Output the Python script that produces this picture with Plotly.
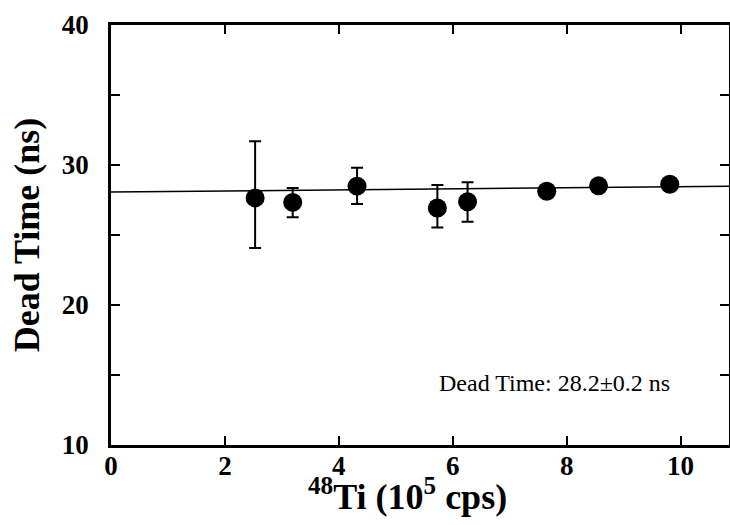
import plotly.graph_objects as go

# Data
count_rate = [2.53, 3.19, 4.32, 5.73, 6.26, 7.65, 8.56, 9.81]      # 48Ti (10^5 cps)
dead_time = [27.65, 27.33, 28.49, 26.93, 27.38, 28.13, 28.51, 28.62]  # ns
dead_time_high = [31.69, 28.35, 29.80, 28.57, 28.76, 28.13, 28.51, 28.62]
dead_time_low = [24.08, 26.26, 27.21, 25.54, 25.95, 28.13, 28.51, 28.62]

fit_x = [0.0, 10.9]
fit_y = [28.07, 28.48]

x_ticks = [0, 2, 4, 6, 8, 10]
y_ticks = [10, 15, 20, 25, 30, 35, 40]
y_ticktext = ["10", "", "20", "", "30", "", "40"]

x_title = "<sup>48</sup>Ti (10<sup>5</sup> cps)"
y_title = "Dead Time (ns)"
annotation_text = "Dead Time: 28.2±0.2 ns"

err_plus = [h - y for h, y in zip(dead_time_high, dead_time)]
err_minus = [y - l for l, y in zip(dead_time_low, dead_time)]

SERIF = "Liberation Serif, Times New Roman, serif"

fig = go.Figure()
fig.add_trace(go.Scatter(
    x=fit_x, y=fit_y, mode="lines",
    line=dict(color="black", width=1.5),
    showlegend=False, hoverinfo="skip",
))
fig.add_trace(go.Scatter(
    x=count_rate, y=dead_time, mode="markers",
    marker=dict(color="black", size=19),
    error_y=dict(type="data", symmetric=False, array=err_plus, arrayminus=err_minus,
                 color="black", thickness=2, width=6),
    showlegend=False,
))

axis_common = dict(
    showline=True, linecolor="black", linewidth=2.5, mirror="ticks",
    ticks="inside", ticklen=9, tickwidth=1.5, tickcolor="black",
    showgrid=False, zeroline=False, automargin=False,
    tickfont=dict(family=SERIF, size=27, color="black", weight="bold"),
)

fig.update_layout(
    width=730, height=525,
    margin=dict(l=111, r=1, t=25, b=80),
    paper_bgcolor="white", plot_bgcolor="white",
    xaxis=dict(
        range=[0, 10.85], tickvals=x_ticks, ticktext=[str(v) for v in x_ticks],
        ticklabelstandoff=-5,
        **axis_common,
    ),
    yaxis=dict(
        range=[10, 40], tickvals=y_ticks, ticktext=y_ticktext,
        ticklabelstandoff=14,
        title=dict(text=y_title,
                   font=dict(family=SERIF, size=36, color="black", weight="bold"),
                   standoff=12),
        **axis_common,
    ),
    annotations=[
        dict(x=7.78, y=14.4, xref="x", yref="y", text=annotation_text, showarrow=False,
             font=dict(family=SERIF, size=24, color="black")),
        dict(x=0.479, y=-0.117, xref="paper", yref="paper", text=x_title, showarrow=False,
             xanchor="center", yanchor="middle",
             font=dict(family=SERIF, size=36, color="black", weight="bold")),
    ],
)

fig.write_html("out.html", config={"displayModeBar": False},
               post_script="document.body.style.margin='0px';")
